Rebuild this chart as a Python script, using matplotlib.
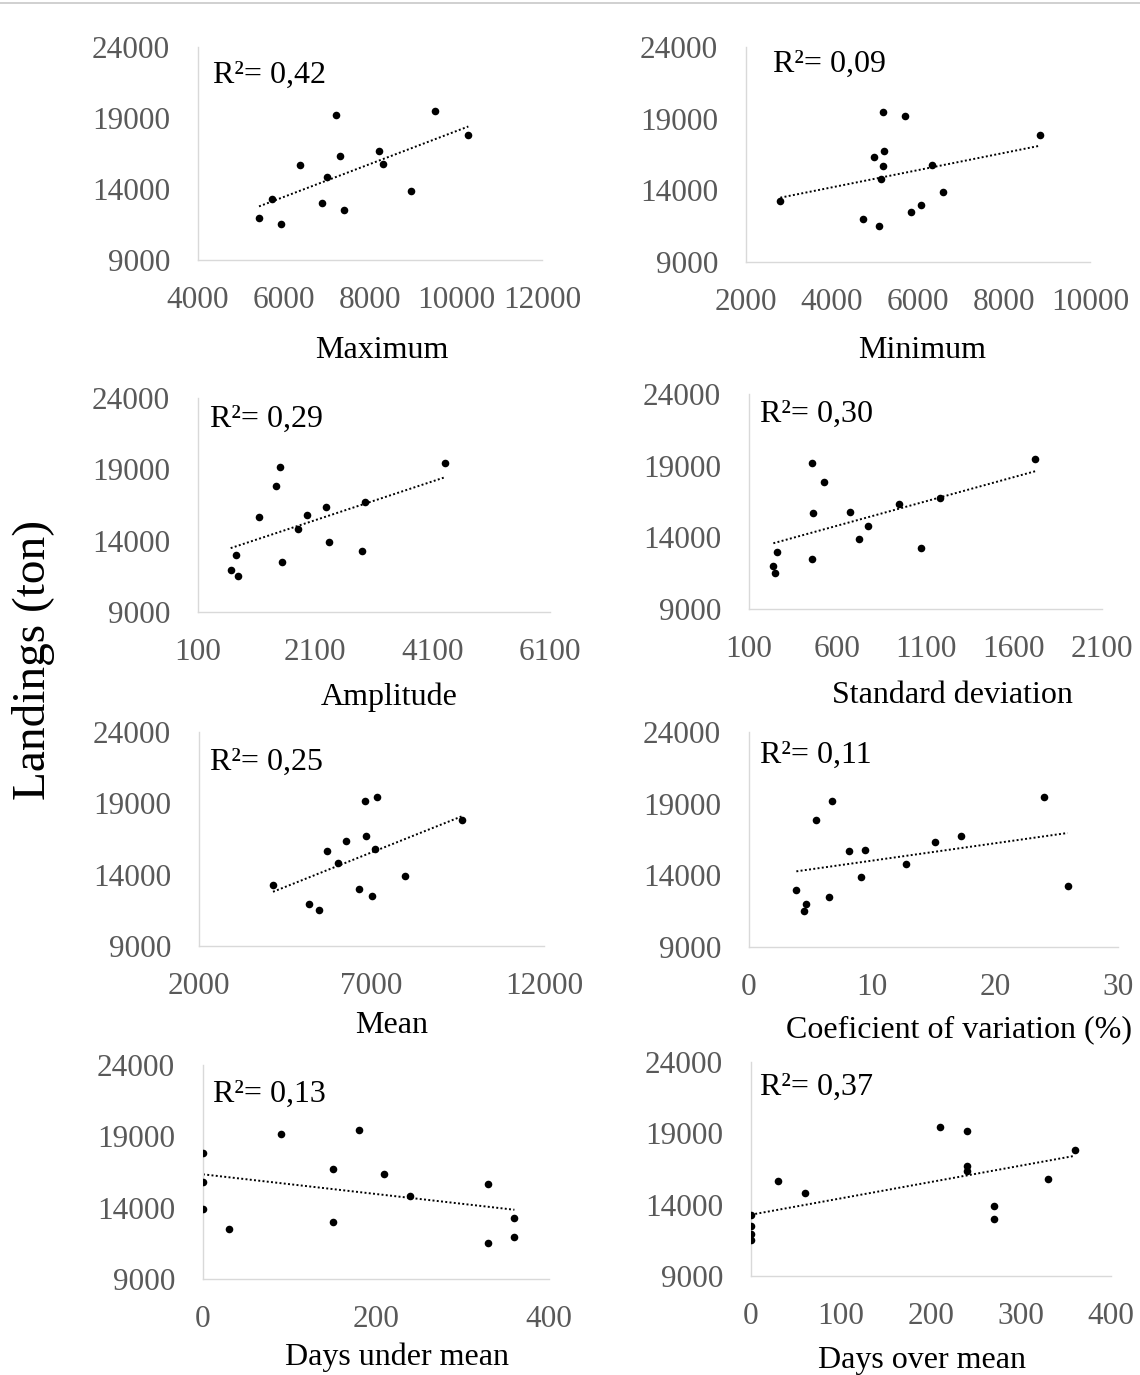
import matplotlib.pyplot as plt
import numpy as np
from matplotlib.lines import Line2D

plt.rcParams["font.family"] = ["Liberation Serif", "DejaVu Serif"]

# landings (ton) per year, same order in every panel
landings = [11977, 13266, 11531, 15680, 12984, 14812, 19195, 16336, 12516, 16711, 15773, 13875, 19476, 17836]
maximum = [5419, 5713, 5922, 6364, 6884, 7000, 7217, 7302, 7403, 8209, 8310, 8961, 9519, 10287]
minimum = [4721, 2798, 5093, 5194, 6078, 5147, 5690, 4985, 5845, 5209, 6326, 6582, 5194, 8837]
amplitude = [657, 2892, 782, 1135, 748, 1812, 1499, 2278, 1527, 2955, 1960, 2341, 4303, 1425]
std_dev = [238, 1076, 249, 464, 257, 777, 458, 951, 456, 1180, 673, 726, 1723, 524]
mean = [5179, 4145, 5488, 5710, 6628, 6029, 6812, 6261, 7024, 6831, 7092, 7971, 7150, 9614]
cv = [4.6, 25.9, 4.5, 8.1, 3.85, 12.8, 6.75, 15.15, 6.5, 17.2, 9.46, 9.13, 24.0, 5.42]
days_under = [360, 360, 330, 330, 150, 239, 90, 209, 30, 150, 0, 0, 180, 0]
days_over = [0, 0, 0, 30, 270, 60, 240, 240, 0, 240, 330, 270, 210, 360]

y_ticks = [9000, 14000, 19000, 24000]
r2_labels = ["0,42", "0,09", "0,29", "0,30", "0,25", "0,11", "0,13", "0,37"]
x_titles = ["Maximum", "Minimum", "Amplitude", "Standard deviation", "Mean",
            "Coeficient of variation (%)", "Days under mean", "Days over mean"]
x_series = [maximum, minimum, amplitude, std_dev, mean, cv, days_under, days_over]
x_tick_sets = [[4000, 6000, 8000, 10000, 12000], [2000, 4000, 6000, 8000, 10000],
               [100, 2100, 4100, 6100], [100, 600, 1100, 1600, 2100],
               [2000, 7000, 12000], [0, 10, 20, 30], [0, 200, 400], [0, 100, 200, 300, 400]]

W, H = 1140, 1375
fig = plt.figure(figsize=(W / 100, H / 100), dpi=100)

# plot area boxes in pixels: left, right, top, bottom
boxes = [(198, 542, 47, 260), (746, 1090, 47, 262),
         (198, 550, 398, 612), (749, 1102, 394, 609),
         (199, 544, 732, 946), (749, 1118, 732, 947),
         (203, 549, 1065, 1279), (751, 1111, 1062, 1276)]
r2_pos = [(213, 83), (773, 72), (210, 427), (760, 422),
          (210, 770), (760, 763), (213, 1102), (760, 1095)]
title_pos = [(382, 358), (922, 358), (389, 705), (952, 703),
             (392, 1033), (959, 1037), (397, 1365), (922, 1368)]

grey_axis = "#d9d9d9"
grey_text = "#595959"

for i in range(8):
    l, r, t, b = boxes[i]
    ax = fig.add_axes([l / W, 1 - b / H, (r - l) / W, (b - t) / H])
    xs = np.array(x_series[i], dtype=float)
    ys = np.array(landings, dtype=float)
    ax.scatter(xs, ys, s=30, color="black", zorder=3, linewidths=0)

    k, c = np.polyfit(xs, ys, 1)
    xl = np.array([xs.min(), xs.max()])
    ax.plot(xl, k * xl + c, color="black", lw=1.4, linestyle=(0, (1, 1.2)), zorder=2)

    ticks = x_tick_sets[i]
    ax.set_xlim(ticks[0], ticks[-1])
    ax.set_ylim(9000, 24000)
    ax.set_xticks(ticks)
    ax.set_yticks(y_ticks)
    ax.tick_params(length=0, labelsize=22.5, labelcolor=grey_text)
    ax.tick_params(axis="x", pad=19)
    ax.tick_params(axis="y", pad=20)
    for side in ["top", "right"]:
        ax.spines[side].set_visible(False)
    for side in ["left", "bottom"]:
        ax.spines[side].set_color(grey_axis)
        ax.spines[side].set_linewidth(1.0)
    ax.patch.set_alpha(0)

    fig.text(r2_pos[i][0] / W, 1 - r2_pos[i][1] / H, "R²= " + r2_labels[i],
             fontsize=23, color="black", ha="left", va="baseline")
    fig.text(title_pos[i][0] / W, 1 - title_pos[i][1] / H, x_titles[i],
             fontsize=23, color="black", ha="center", va="baseline")

fig.text(34 / W, 1 - 660 / H, "Landings (ton)", fontsize=34, rotation=90,
         ha="center", va="center", color="black")

fig.add_artist(Line2D([0, 1], [1 - 2.5 / H, 1 - 2.5 / H], color="#c8c8c8", lw=1.2))

fig.savefig("out.png", dpi=100)
